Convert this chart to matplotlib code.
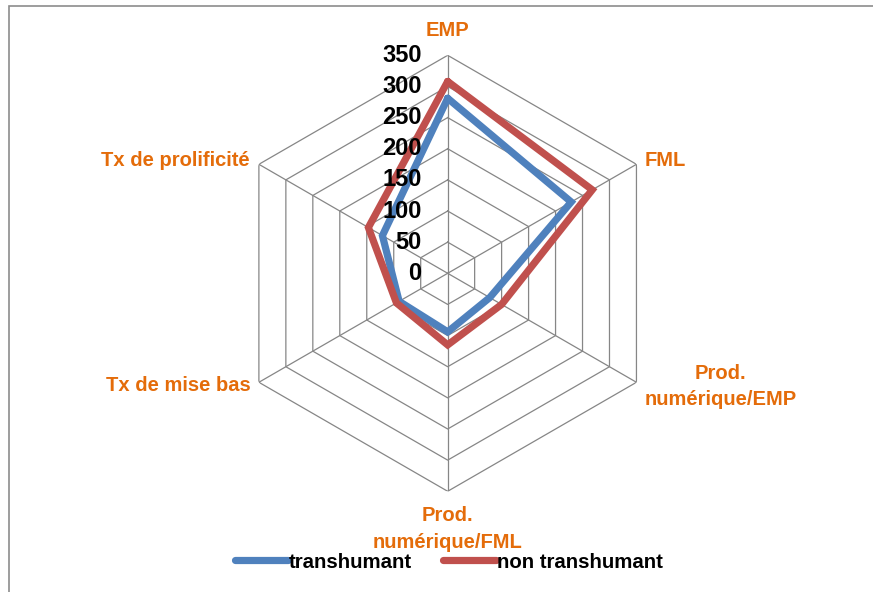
import numpy as np
import matplotlib.pyplot as plt
from matplotlib.patches import Rectangle

plt.rcParams['font.family'] = ['Liberation Sans', 'DejaVu Sans']
plt.rcParams['font.weight'] = 'bold'

categories = ["EMP", "FML", "Prod.\nnumérique/EMP", "Prod.\nnumérique/FML",
              "Tx de mise bas", "Tx de prolificité"]
transhumant = [281, 229, 78, 94, 90, 121]
non_transhumant = [308, 268, 100, 115, 95, 147]
levels = [0, 50, 100, 150, 200, 250, 300, 350]

c_blue = "#4F81BD"
c_red = "#C0504D"
c_grid = "#868686"
c_label = "#E46C0A"

fig = plt.figure(figsize=(8.73, 5.92), dpi=100)

# chart area border
fig.patches.append(Rectangle((9 / 873, -0.1), 1.0, 1.1 - 6 / 592,
                             transform=fig.transFigure, fill=False,
                             edgecolor="#8c8c8c", linewidth=1.2))

ax = fig.add_axes([0.2631, 0.1701, 0.4994, 0.7365], projection='polar')
ax.set_theta_zero_location('N')
ax.set_theta_direction(-1)
ax.set_ylim(0, 350)
ax.grid(False)
ax.set_xticks([])
ax.set_yticks([])
ax.spines['polar'].set_visible(False)
ax.patch.set_alpha(0)

n = len(categories)
theta = np.linspace(0, 2 * np.pi, n, endpoint=False)
theta_c = np.append(theta, theta[0])

# hexagonal grid
for lv in levels[1:]:
    ax.plot(theta_c, [lv] * (n + 1), color=c_grid, lw=0.9, zorder=1)
for t in theta:
    ax.plot([t, t], [0, levels[-1]], color=c_grid, lw=0.9, zorder=1)

# series
ax.plot(theta_c, transhumant + transhumant[:1], color=c_blue, lw=5.2,
        solid_joinstyle='miter', solid_capstyle='round', zorder=3,
        label="transhumant")
ax.plot(theta_c, non_transhumant + non_transhumant[:1], color=c_red, lw=5.2,
        solid_joinstyle='miter', solid_capstyle='round', zorder=4,
        label="non transhumant")

# value labels along the top axis
for lv in levels:
    ax.annotate(str(lv), (0, lv), xytext=(-26, 0), textcoords='offset pixels',
                ha='right', va='center', fontsize=17, fontweight='bold',
                color='black', zorder=5)

# category labels
label_pos = [
    ((0, 25), 'center', 'center'),
    ((8, 4), 'left', 'center'),
    ((8, -4), 'left', 'center'),
    ((0, -15), 'center', 'top'),
    ((-8, -3), 'right', 'center'),
    ((-9, 4), 'right', 'center'),
]
for t, name, (off, ha, va) in zip(theta, categories, label_pos):
    ax.annotate(name, (t, levels[-1]), xytext=off, textcoords='offset pixels',
                ha=ha, va=va, ma='center', fontsize=14.5, fontweight='bold',
                color=c_label, linespacing=1.5, annotation_clip=False)

fig.legend(loc='center', bbox_to_anchor=(449 / 873, 1 - 562 / 592),
           ncol=2, frameon=False, handlelength=2.6, handletextpad=0.05,
           columnspacing=1.5, prop={'size': 14.7, 'weight': 'bold'})

fig.savefig("out.png", dpi=100)
